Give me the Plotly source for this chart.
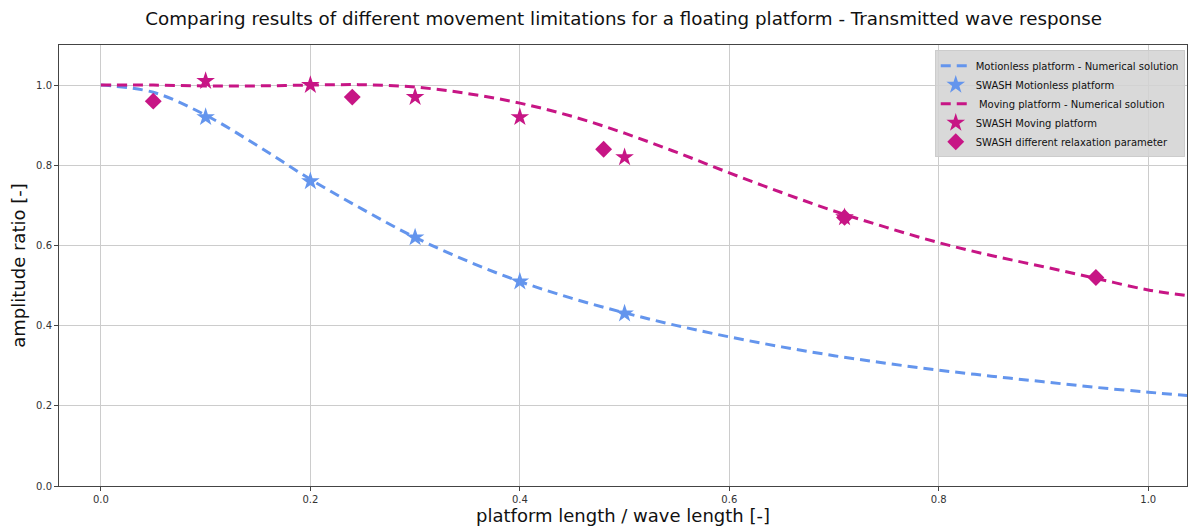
import plotly.graph_objects as go

# Numerical solutions
curve_x = [0.0, 0.05, 0.1, 0.15, 0.2, 0.25, 0.3, 0.35, 0.4, 0.45, 0.5, 0.55, 0.6, 0.65, 0.7,
           0.75, 0.8, 0.85, 0.9, 0.95, 1.0, 1.04]
motionless_num = [1.0, 0.982, 0.925, 0.848, 0.765, 0.69, 0.62, 0.561, 0.51, 0.468, 0.432, 0.40,
                  0.372, 0.347, 0.325, 0.306, 0.289, 0.274, 0.26, 0.246, 0.234, 0.225]
moving_num = [1.0, 1.0, 0.998, 0.998, 1.0, 1.001, 0.995, 0.979, 0.955, 0.922, 0.88, 0.832,
              0.781, 0.732, 0.686, 0.645, 0.607, 0.575, 0.547, 0.518, 0.489, 0.474]

# SWASH results
swash_motionless_x = [0.1, 0.2, 0.3, 0.4, 0.5]
swash_motionless_y = [0.92, 0.76, 0.62, 0.51, 0.43]
swash_moving_x = [0.1, 0.2, 0.3, 0.4, 0.5, 0.71]
swash_moving_y = [1.01, 1.0, 0.97, 0.92, 0.82, 0.67]
swash_relax_x = [0.05, 0.24, 0.48, 0.71, 0.95]
swash_relax_y = [0.96, 0.97, 0.84, 0.67, 0.52]

x_ticks = [0.0, 0.2, 0.4, 0.6, 0.8, 1.0]
y_ticks = [0.0, 0.2, 0.4, 0.6, 0.8, 1.0]

BLUE = "#6495ED"
PINK = "#C71585"
DASH = "10px,6px"

fig = go.Figure()
fig.add_trace(go.Scatter(x=curve_x, y=motionless_num, mode="lines", line_shape="spline",
                         line=dict(color=BLUE, width=3, dash=DASH),
                         name="Motionless platform - Numerical solution"))
fig.add_trace(go.Scatter(x=swash_motionless_x, y=swash_motionless_y, mode="markers",
                         marker=dict(symbol="star", size=14, color=BLUE, line=dict(width=0)),
                         name="SWASH Motionless platform"))
fig.add_trace(go.Scatter(x=curve_x, y=moving_num, mode="lines", line_shape="spline",
                         line=dict(color=PINK, width=3, dash=DASH),
                         name=" Moving platform - Numerical solution"))
fig.add_trace(go.Scatter(x=swash_moving_x, y=swash_moving_y, mode="markers",
                         marker=dict(symbol="star", size=14, color=PINK, line=dict(width=0)),
                         name="SWASH Moving platform"))
fig.add_trace(go.Scatter(x=swash_relax_x, y=swash_relax_y, mode="markers",
                         marker=dict(symbol="diamond", size=13, color=PINK, line=dict(width=0)),
                         name="SWASH different relaxation parameter"))

axis_common = dict(showline=True, mirror=True, linecolor="#444", linewidth=1,
                   showgrid=True, gridcolor="#cccccc", gridwidth=1, zeroline=False,
                   ticks="outside", ticklen=4, tickcolor="#444",
                   tickfont=dict(family="DejaVu Sans", size=10, color="#333"))

fig.update_layout(
    width=1188, height=526,
    margin=dict(l=59, r=1, t=45, b=40),
    paper_bgcolor="white", plot_bgcolor="white",
    title=dict(text="Comparing results of different movement limitations for a floating platform - Transmitted wave response",
               x=0.525, xanchor="center", y=0.965, yanchor="middle",
               font=dict(family="DejaVu Sans", size=18.3, color="#111")),
    xaxis=dict(range=[-0.04, 1.037], tickvals=x_ticks, ticktext=[f"{v:.1f}" for v in x_ticks],
               title=dict(text="platform length / wave length [-]", standoff=4,
                          font=dict(family="DejaVu Sans", size=18, color="#111")),
               **axis_common),
    yaxis=dict(range=[0, 1.1], tickvals=y_ticks, ticktext=[f"{v:.1f}" for v in y_ticks],
               title=dict(text="amplitude ratio [-]", standoff=5,
                          font=dict(family="DejaVu Sans", size=18, color="#111")),
               **axis_common),
    legend=dict(x=0.998, y=0.988, xanchor="right", yanchor="top",
                bgcolor="rgba(210,210,210,0.85)", bordercolor="#cccccc", borderwidth=1,
                font=dict(family="DejaVu Sans", size=10, color="#111"),
                tracegroupgap=0, itemwidth=30),
    showlegend=True,
)

fig.write_html("out.html")
